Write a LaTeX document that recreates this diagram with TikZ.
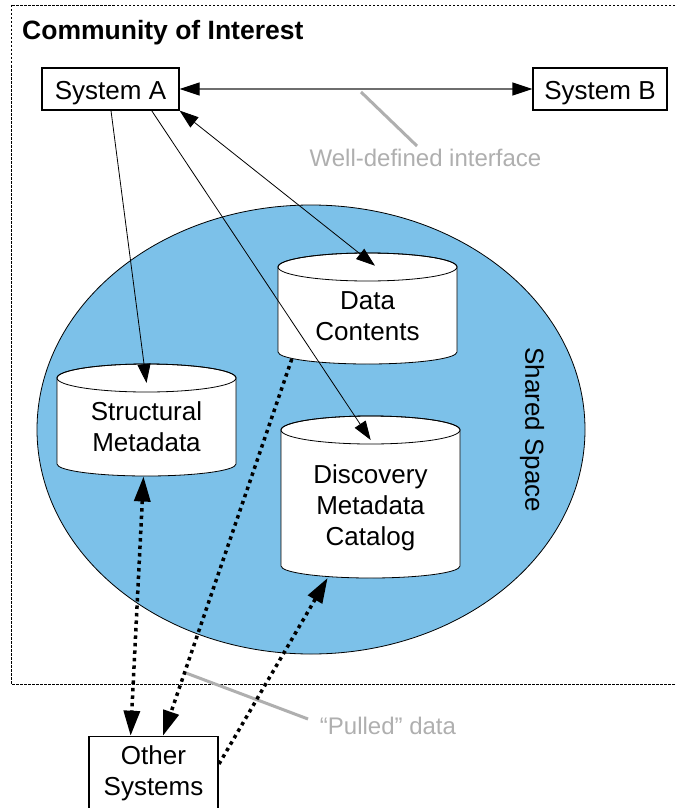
\documentclass[tikz,border=0pt]{standalone}
\usepackage{fontspec}
\setmainfont{Liberation Sans}
\usetikzlibrary{arrows.meta,calc}
\definecolor{sky}{RGB}{124,193,233}
\definecolor{callout}{RGB}{175,175,175}
\definecolor{ifline}{RGB}{110,110,110}
\newcommand{\mycyl}[4]{%
  \pgfmathsetmacro\cylcx{(#1+#2)/2}%
  \pgfmathsetmacro\cylrx{(#2-#1)/2}%
  \filldraw[fill=white, line width=0.8pt] (#1,-#3-14) -- (#1,-#4+12)
     arc[start angle=180,end angle=360,x radius=\cylrx pt,y radius=12pt]
     -- (#2,-#3-14)
     arc[start angle=0,end angle=180,x radius=\cylrx pt,y radius=14pt] -- cycle;
  \draw[line width=0.8pt] (\cylcx,-#3-14) ellipse [x radius=\cylrx pt, y radius=14pt];
}
\begin{document}
\begin{tikzpicture}[x=1pt,y=1pt,
  txt/.style={font=\fontsize{26}{31}\selectfont, align=center, inner sep=0pt},
  graytxt/.style={font=\fontsize{24}{28}\selectfont, text=callout, inner sep=0pt},
  sysbox/.style={draw, line width=1.2pt, inner sep=0pt, font=\fontsize{26}{31}\selectfont, text height=21pt, text depth=0pt},
  thinarrow/.style={line width=0.8pt, -{Triangle[length=19pt,width=13pt]}},
  thinboth/.style={line width=0.8pt, {Triangle[length=19pt,width=13pt]}-{Triangle[length=19pt,width=13pt]}},
  dotline/.style={line width=3.5pt, dash pattern=on 3.5pt off 4pt},
  bigtip/.style={-{Triangle[length=25pt,width=16pt]}},
  bigboth/.style={{Triangle[length=25pt,width=16pt]}-{Triangle[length=25pt,width=16pt]}},
  calloutline/.style={draw=callout, line width=3pt}
]
\clip (0,0) rectangle (676,-808);
\fill[white] (0,0) rectangle (676,-808);

% community frame
\draw[line width=0.6pt, dash pattern=on 2.5pt off 1.5pt] (11,-5) rectangle (700,-684);
\node[txt, font=\bfseries\fontsize{26.5}{31}\selectfont, anchor=west] (coi) at (22,-33) {Community of Interest};

% shared space
\filldraw[fill=sky, draw=black, line width=0.8pt] (311,-429.5) ellipse [x radius=274pt, y radius=224.5pt];
\node[txt, rotate=-90] (ss) at (532,-430) {Shared Space};

% cylinders
\mycyl{278}{457}{253}{364}
\mycyl{57}{236}{364}{476}
\mycyl{281}{460}{416}{578}
\node[txt] (dc) at (367.5,-316) {Data\\Contents};
\node[txt] (sm) at (146.5,-427) {Structural\\Metadata};
\node[txt] (dm) at (370.5,-508) {Discovery\\Metadata\\Catalog};

% systems
\node[sysbox, minimum width=137pt, minimum height=42pt] (sa) at (110.5,-89) {System A};
\node[sysbox, minimum width=134pt, minimum height=42pt] (sb) at (600,-89) {System B};
\node[draw, line width=1.2pt, minimum width=129pt, minimum height=90pt, anchor=north, inner sep=0pt] (os) at (153.5,-735.7) {};
\node[txt] (ost) at (153.5,-773) {Other\\Systems};

% named coordinates
\coordinate (a1) at (111,-110.7);
\coordinate (a2) at (151.7,-110.7);
\coordinate (smtop) at (146.5,-383);
\coordinate (dmtop) at (370.7,-440);
\coordinate (dctop) at (375,-265.7);
\coordinate (smbot) at (143.5,-476.5);
\coordinate (os1) at (130.6,-735.7);
\coordinate (os2) at (163,-735.7);
\coordinate (os3) at (219,-764);
\coordinate (dcbot) at (291.8,-359);
\coordinate (dmbot) at (327.6,-578);
\coordinate (wdi1) at (361,-92);
\coordinate (wdi2) at (417,-146);
\coordinate (pd1) at (186,-673);
\coordinate (pd2) at (308,-719);

% callouts
\draw[calloutline] (wdi1) -- (wdi2);
\node[graytxt] (wdi) at (425.5,-158) {Well-defined interface};
\draw[calloutline] (pd1) -- (pd2);
\node[graytxt] (pd) at (388,-726) {“Pulled” data};

% interface arrow
\draw[line width=1.2pt, draw=ifline, {Triangle[length=20pt,width=13pt,color=black]}-{Triangle[length=20pt,width=13pt,color=black]}] (sa.east) -- (sb.west);

% thin arrows
\draw[thinarrow] (a1) -- (smtop);
\draw[thinarrow] (a2) -- (dmtop);
\draw[thinboth] (sa.south east) -- (dctop);

% dotted arrows
\draw[dotline, bigboth] (smbot) -- (os1);
\draw[dotline, bigtip] (dcbot) -- (os2);
\draw[dotline, bigtip] (os3) -- (dmbot);
\end{tikzpicture}
\end{document}
